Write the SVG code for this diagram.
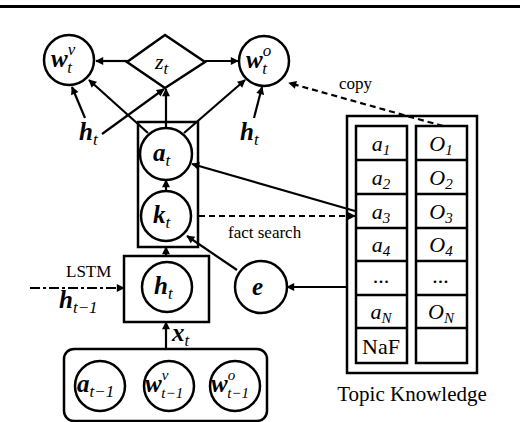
<svg xmlns="http://www.w3.org/2000/svg" width="520" height="422" viewBox="0 0 520 422">
<defs>
<marker id="ah" viewBox="0 0 10 10" refX="9" refY="5" markerWidth="8" markerHeight="8" orient="auto" markerUnits="userSpaceOnUse" overflow="visible">
<path d="M0,0 L10,5 L0,10 z" fill="#000"/>
</marker>
<style>
.n{fill:#fff;stroke:#000;stroke-width:2.5}
.b{fill:none;stroke:#000;stroke-width:2.5}
.l{fill:none;stroke:#000;stroke-width:2.2;marker-end:url(#ah)}
.d{fill:none;stroke:#000;stroke-width:2.2;stroke-dasharray:6,4;marker-end:url(#ah)}
.m{font-family:"Liberation Serif",serif;font-style:italic;font-weight:bold;font-size:25px}
.s{font-size:17px;font-weight:normal}
.u{font-size:15px;font-weight:normal}
.t{font-family:"Liberation Serif",serif;font-size:17px}
.c{font-family:"Liberation Serif",serif;font-style:italic;font-size:22px}
</style>
</defs>
<rect x="0" y="5" width="520" height="3" fill="#000"/>
<g id="connectors">
<line class="l" x1="128" y1="61" x2="96" y2="61"/>
<line class="l" x1="205" y1="61" x2="238" y2="61"/>
<line class="l" x1="85" y1="118" x2="72" y2="87"/>
<line class="l" x1="102" y1="134" x2="164" y2="89"/>
<line class="l" x1="148" y1="133" x2="89" y2="80"/>
<line class="l" x1="166" y1="128" x2="166" y2="89"/>
<line class="l" x1="184" y1="133" x2="245" y2="80"/>
<line class="l" x1="254" y1="118" x2="262" y2="87"/>
<line class="l" x1="166" y1="190" x2="166" y2="180"/>
<line class="l" x1="166" y1="256" x2="166" y2="247"/>
<line class="l" x1="166" y1="349" x2="166" y2="322"/>
<line class="l" x1="237" y1="270" x2="187" y2="236"/>
<line class="l" x1="347" y1="287" x2="287" y2="287"/>
<line class="l" x1="355" y1="211" x2="192" y2="164"/>
<line class="d" x1="199" y1="216" x2="355" y2="216"/>
<line class="d" x1="443" y1="126" x2="289" y2="83"/>
<path d="M30,288 H124" fill="none" stroke="#000" stroke-width="2.2" stroke-dasharray="10,3,3,3" marker-end="url(#ah)"/>
</g>
<g id="z_t">
<path class="n" d="M165,35 L205,62 L165,88 L127,62 z"/>
<text class="c" x="155" y="69">z<tspan class="s" dy="5">t</tspan></text>
</g>
<g id="w_t_v">
<circle class="n" cx="69" cy="60" r="25"/>
<text class="m" x="51" y="67">w<tspan class="s" dy="-12">v</tspan><tspan class="s" dx="-8" dy="18">t</tspan></text>
</g>
<g id="w_t_o">
<circle class="n" cx="264" cy="61" r="25"/>
<text class="m" x="246" y="68">w<tspan class="s" dy="-12">o</tspan><tspan class="s" dx="-9" dy="18">t</tspan></text>
</g>
<g id="h_t_left"><text class="m" x="79" y="140">h<tspan class="s" dy="5">t</tspan></text></g>
<g id="h_t_right"><text class="m" x="240" y="140">h<tspan class="s" dy="5">t</tspan></text></g>
<g id="ak_box"><rect class="b" x="138" y="122" width="60" height="125"/></g>
<g id="a_t">
<circle class="n" cx="166" cy="154" r="26"/>
<text class="m" x="153" y="161">a<tspan class="s" dy="5">t</tspan></text>
</g>
<g id="k_t">
<circle class="n" cx="166" cy="216" r="25"/>
<text class="m" x="153" y="223">k<tspan class="s" dy="5">t</tspan></text>
</g>
<g id="lstm">
<rect class="b" x="124" y="256" width="85" height="66"/>
<circle class="n" cx="167" cy="287" r="25"/>
<text class="m" x="154" y="294">h<tspan class="s" dy="5">t</tspan></text>
<text class="t" x="66" y="277" font-size="18">LSTM</text>
<text class="m" x="59" y="308">h<tspan class="s" dy="5">t−1</tspan></text>
</g>
<g id="x_t"><text class="m" x="172" y="341">x<tspan class="s" dy="5">t</tspan></text></g>
<g id="e">
<circle class="n" cx="261" cy="287" r="26"/>
<text class="m" x="252" y="295">e</text>
</g>
<g id="inputs">
<rect class="b" x="64" y="349" width="203" height="72" rx="10"/>
<circle class="n" cx="100" cy="386" r="25"/>
<text class="m" x="77" y="392" font-size="22">a<tspan class="s" dy="5">t−1</tspan></text>
<circle class="n" cx="169" cy="386" r="25"/>
<text class="m" x="145" y="392" font-size="22">w<tspan class="u" dy="-12">v</tspan><tspan class="u" dx="-7" dy="18">t−1</tspan></text>
<circle class="n" cx="235" cy="386" r="25"/>
<text class="m" x="211" y="392" font-size="22">w<tspan class="u" dy="-12">o</tspan><tspan class="u" dx="-8" dy="18">t−1</tspan></text>
</g>
<g id="topic_knowledge">
<rect class="b" x="347" y="116" width="130" height="257"/>
<rect class="b" x="356" y="126" width="51" height="237"/>
<rect class="b" x="416" y="126" width="51" height="237"/>
<path d="M356,160H407M356,194H407M356,228H407M356,261H407M356,295H407M356,328H407M416,160H467M416,194H467M416,228H467M416,261H467M416,295H467M416,328H467" stroke="#000" stroke-width="2.5" fill="none"/>
<g font-family="Liberation Serif,serif" font-style="italic" font-size="22" text-anchor="middle">
<text x="381" y="151">a<tspan font-size="15" dy="4">1</tspan></text>
<text x="381" y="185">a<tspan font-size="15" dy="4">2</tspan></text>
<text x="381" y="219">a<tspan font-size="15" dy="4">3</tspan></text>
<text x="381" y="252">a<tspan font-size="15" dy="4">4</tspan></text>
<text x="381" y="283" font-style="normal">...</text>
<text x="381" y="319">a<tspan font-size="15" dy="4">N</tspan></text>
<text x="381" y="354" font-style="normal">NaF</text>
<text x="441" y="151">O<tspan font-size="15" dy="4">1</tspan></text>
<text x="441" y="185">O<tspan font-size="15" dy="4">2</tspan></text>
<text x="441" y="219">O<tspan font-size="15" dy="4">3</tspan></text>
<text x="441" y="252">O<tspan font-size="15" dy="4">4</tspan></text>
<text x="441" y="283">...</text>
<text x="441" y="319">O<tspan font-size="15" dy="4">N</tspan></text>
</g>
<text x="412" y="401" font-family="Liberation Serif,serif" font-size="21" text-anchor="middle">Topic Knowledge</text>
</g>
<g id="labels">
<text class="t" x="228" y="238">fact search</text>
<text class="t" x="339" y="89">copy</text>
</g>
</svg>
